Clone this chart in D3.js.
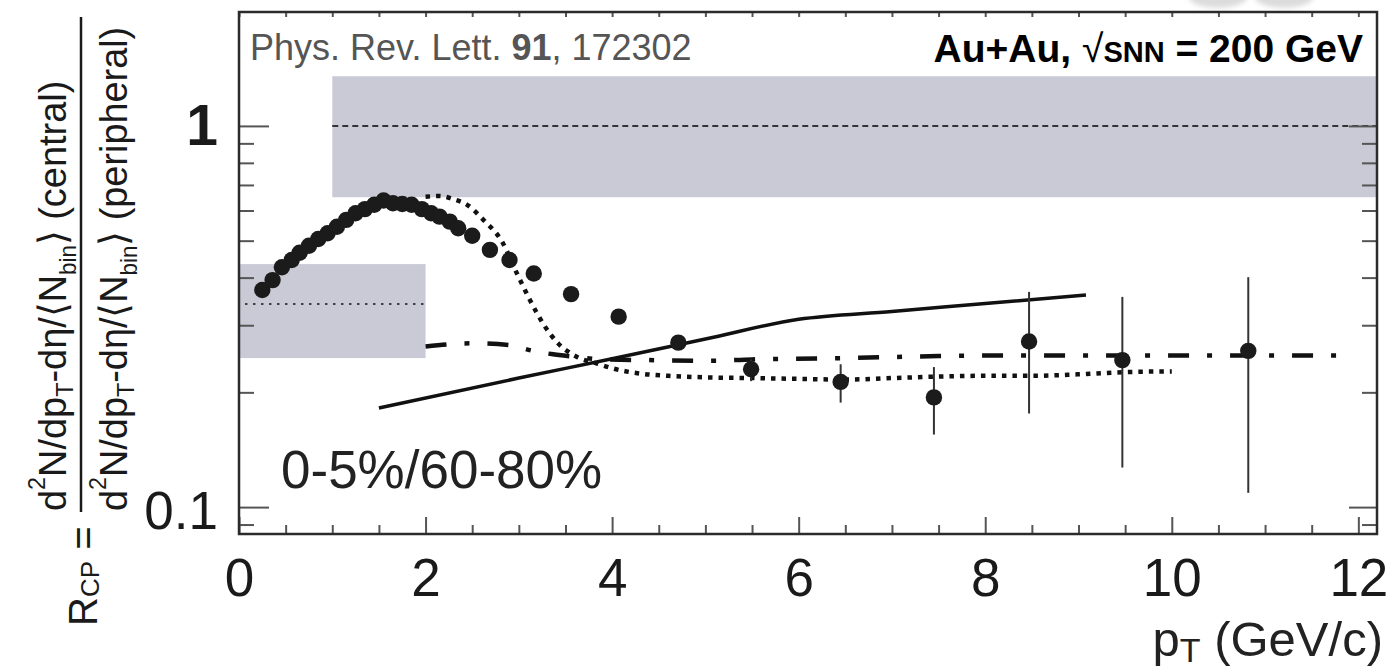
<!DOCTYPE html>
<html>
<head>
<meta charset="utf-8">
<script src="https://cdn.jsdelivr.net/npm/d3@7"></script>
<style>
  body { margin: 0; background: #fff; }
  svg { display: block; font-family: "Liberation Sans", Arial, Helvetica, sans-serif; }
</style>
</head>
<body>
<svg id="chart" width="1400" height="669"></svg>
<script>
// measured R_CP points (charged hadrons, 0-5% / 60-80%)
const ptData = [0.25, 0.36, 0.46, 0.565, 0.65, 0.75, 0.85, 0.95, 1.05, 1.15, 1.25, 1.35, 1.45, 1.55,
  1.65, 1.75, 1.85, 1.96, 2.06, 2.15, 2.26, 2.35, 2.5, 2.69, 2.9, 3.16, 3.56, 4.07, 4.71,
  5.49, 6.45, 7.45, 8.47, 9.47, 10.82];
const rcpData = [0.371, 0.394, 0.426, 0.445, 0.465, 0.485, 0.505, 0.523, 0.544, 0.567, 0.590, 0.605, 0.621, 0.637,
  0.627, 0.624, 0.621, 0.605, 0.590, 0.578, 0.561, 0.539, 0.515, 0.473, 0.445, 0.41, 0.362, 0.316, 0.270,
  0.230, 0.213, 0.194, 0.272, 0.243, 0.257];

// error bars (only visible at high pT)
const errPt = [5.49, 6.45, 7.45, 8.47, 9.47, 10.82];
const errLow = [0.214, 0.188, 0.155, 0.176, 0.127, 0.109];
const errHigh = [0.244, 0.237, 0.233, 0.367, 0.356, 0.401];

// model curves
const solidPt = [1.5, 3.0, 4.0, 5.0, 6.0, 7.0, 8.0, 9.08];
const solidR = [0.182, 0.218, 0.245, 0.276, 0.311, 0.326, 0.342, 0.360];

const dottedPt = [2.0, 2.15, 2.3, 2.45, 2.62, 2.82, 2.98, 3.12, 3.26, 3.42, 3.62, 3.84, 4.01, 4.3, 4.6,
  5.0, 5.5, 6.0, 6.5, 7.0, 7.5, 8.0, 8.5, 9.0, 9.5, 10.0];
const dottedR = [0.652, 0.655, 0.642, 0.62, 0.567, 0.497, 0.41, 0.349, 0.303, 0.269, 0.248, 0.238, 0.231, 0.224, 0.221,
  0.219, 0.218, 0.217, 0.216, 0.218, 0.220, 0.221, 0.221, 0.223, 0.226, 0.227];

const dashDotPt = [2.0, 2.5, 2.9, 3.15, 3.35, 3.6, 3.9, 4.4, 5.0, 5.5, 6.5, 7.5, 8.5, 9.8, 11.85];
const dashDotR = [0.264, 0.269, 0.266, 0.257, 0.252, 0.248, 0.244, 0.243, 0.242, 0.244, 0.246, 0.249, 0.250, 0.250, 0.250];

// normalisation uncertainty bands: [pT from, pT to, low, high, centre]
const bandNpart = [0, 2, 0.246, 0.434, 0.341];
const bandNbin = [1, 12.2, 0.65, 1.35, 1.0];

// axes
const xDomain = [0, 12.2];
const yDomain = [0.085, 1.99];
const xMajor = [0, 2, 4, 6, 8, 10, 12];
const xMinor = d3.range(0, 12.01, 0.5).filter(v => v % 2 !== 0);
const yMajor = [0.1, 1];
const yMinor = [0.09, 0.2, 0.3, 0.4, 0.5, 0.6, 0.7, 0.8, 0.9];

const svg = d3.select('#chart');
const frame = { left: 239, right: 1377, top: 12, bottom: 534 };

const x = d3.scaleLinear().domain(xDomain).range([frame.left, frame.right]);
const y = d3.scaleLog().domain(yDomain).range([frame.bottom, frame.top]);

svg.append('defs').append('clipPath').attr('id', 'plot-clip')
  .append('rect')
  .attr('x', frame.left).attr('y', frame.top)
  .attr('width', frame.right - frame.left).attr('height', frame.bottom - frame.top);

// faint logo fragment peeking above the frame
const blur = svg.select('defs').append('filter').attr('id', 'soft');
blur.append('feGaussianBlur').attr('stdDeviation', 2.5);
svg.append('g').attr('filter', 'url(#soft)')
  .selectAll('ellipse')
  .data([1218, 1284])
  .join('ellipse')
  .attr('cx', d => d).attr('cy', -4).attr('rx', 30).attr('ry', 12)
  .attr('fill', '#dcdcdc');

const plot = svg.append('g').attr('clip-path', 'url(#plot-clip)');

// gray bands
plot.selectAll('rect.band')
  .data([bandNpart, bandNbin])
  .join('rect')
  .attr('class', 'band')
  .attr('x', d => x(d[0]))
  .attr('width', d => x(d[1]) - x(d[0]))
  .attr('y', d => y(d[3]))
  .attr('height', d => y(d[2]) - y(d[3]))
  .attr('fill', '#c9cad5');

// centre lines of the bands
plot.append('line')
  .attr('x1', x(bandNpart[0]) + 6).attr('x2', x(bandNpart[1]))
  .attr('y1', y(bandNpart[4])).attr('y2', y(bandNpart[4]))
  .attr('stroke', '#444').attr('stroke-width', 2).attr('stroke-dasharray', '2.5,5.5');

plot.append('line')
  .attr('x1', x(bandNbin[0])).attr('x2', x(bandNbin[1]))
  .attr('y1', y(bandNbin[4])).attr('y2', y(bandNbin[4]))
  .attr('stroke', '#333').attr('stroke-width', 2).attr('stroke-dasharray', '6,4');

// model curves
const line = d3.line().x(d => x(d[0])).y(d => y(d[1])).curve(d3.curveMonotoneX);

plot.append('path')
  .attr('d', line(d3.zip(solidPt, solidR)))
  .attr('fill', 'none').attr('stroke', '#111').attr('stroke-width', 3.5);

plot.append('path')
  .attr('d', line(d3.zip(dashDotPt, dashDotR)))
  .attr('fill', 'none').attr('stroke', '#111').attr('stroke-width', 4.5)
  .attr('stroke-dasharray', '21,18,5,18');

plot.append('path')
  .attr('d', line(d3.zip(dottedPt, dottedR)))
  .attr('fill', 'none').attr('stroke', '#111').attr('stroke-width', 4.5)
  .attr('stroke-dasharray', '4.5,6');

// error bars
plot.selectAll('line.err')
  .data(d3.zip(errPt, errLow, errHigh))
  .join('line')
  .attr('class', 'err')
  .attr('x1', d => x(d[0])).attr('x2', d => x(d[0]))
  .attr('y1', d => y(d[1])).attr('y2', d => y(d[2]))
  .attr('stroke', '#333').attr('stroke-width', 2);

// data points
plot.selectAll('circle')
  .data(d3.zip(ptData, rcpData))
  .join('circle')
  .attr('cx', d => x(d[0]))
  .attr('cy', d => y(d[1]))
  .attr('r', 8.2)
  .attr('fill', '#1b1b1b');

// ticks: bottom (inward, with labels)
const tickColor = '#555';
const bottomMajor = svg.append('g')
  .attr('transform', `translate(0,${frame.bottom})`)
  .call(d3.axisBottom(x).tickValues(xMajor).tickSize(-17).tickPadding(24).tickFormat(d3.format('d')));
bottomMajor.select('.domain').remove();
bottomMajor.selectAll('line').attr('stroke', tickColor).attr('stroke-width', 2);
bottomMajor.selectAll('text')
  .attr('font-size', 53).attr('fill', '#1a1a1a').attr('font-family', '"Liberation Sans", Arial, sans-serif');

const bottomMinor = svg.append('g')
  .attr('transform', `translate(0,${frame.bottom})`)
  .call(d3.axisBottom(x).tickValues(xMinor).tickSize(-9).tickFormat(''));
bottomMinor.select('.domain').remove();
bottomMinor.selectAll('line').attr('stroke', tickColor).attr('stroke-width', 2);

// top ticks
const topAll = svg.append('g')
  .attr('transform', `translate(0,${frame.top})`)
  .call(d3.axisTop(x).tickValues(xMajor.concat(xMinor)).tickSize(-5).tickFormat(''));
topAll.select('.domain').remove();
topAll.selectAll('line').attr('stroke', tickColor).attr('stroke-width', 2);

// left ticks
const leftMajor = svg.append('g')
  .attr('transform', `translate(${frame.left},0)`)
  .call(d3.axisLeft(y).tickValues(yMajor).tickSize(-30).tickPadding(21).tickFormat(d => d === 1 ? '1' : '0.1'));
leftMajor.select('.domain').remove();
leftMajor.selectAll('line').attr('stroke', tickColor).attr('stroke-width', 2);
leftMajor.selectAll('text')
  .attr('font-size', d => d === 1 ? 57 : 53)
  .attr('font-weight', d => d === 1 ? 'bold' : 'normal')
  .attr('dy', d => d === 1 ? '0.33em' : '0.40em')
  .attr('fill', '#1a1a1a').attr('font-family', '"Liberation Sans", Arial, sans-serif');

const leftMinor = svg.append('g')
  .attr('transform', `translate(${frame.left},0)`)
  .call(d3.axisLeft(y).tickValues(yMinor).tickSize(-15).tickFormat(''));
leftMinor.select('.domain').remove();
leftMinor.selectAll('line').attr('stroke', tickColor).attr('stroke-width', 2);

// right ticks
const rightMajor = svg.append('g')
  .attr('transform', `translate(${frame.right},0)`)
  .call(d3.axisRight(y).tickValues(yMajor).tickSize(-28).tickFormat(''));
rightMajor.select('.domain').remove();
rightMajor.selectAll('line').attr('stroke', tickColor).attr('stroke-width', 2);

const rightMinor = svg.append('g')
  .attr('transform', `translate(${frame.right},0)`)
  .call(d3.axisRight(y).tickValues(yMinor).tickSize(-15).tickFormat(''));
rightMinor.select('.domain').remove();
rightMinor.selectAll('line').attr('stroke', tickColor).attr('stroke-width', 2);

// frame
svg.append('rect')
  .attr('x', frame.left).attr('y', frame.top)
  .attr('width', frame.right - frame.left).attr('height', frame.bottom - frame.top)
  .attr('fill', 'none').attr('stroke', '#2b2b2b').attr('stroke-width', 2.5);

// annotations
const ref = svg.append('text').attr('x', 250).attr('y', 60).attr('font-size', 36).attr('fill', '#555');
ref.append('tspan').text('Phys. Rev. Lett. ');
ref.append('tspan').attr('font-weight', 'bold').text('91');
ref.append('tspan').text(', 172302');

const sys = svg.append('text').attr('x', 1363).attr('y', 62).attr('text-anchor', 'end')
  .attr('font-size', 39).attr('font-weight', 'bold').attr('fill', '#000');
sys.append('tspan').text('Au+Au, ');
sys.append('tspan').attr('font-weight', 'normal').text('√');
sys.append('tspan').attr('font-size', 29).text('SNN');
sys.append('tspan').text(' = 200 GeV');

svg.append('text').attr('x', 281).attr('y', 488).attr('font-size', 53).attr('fill', '#222')
  .text('0-5%/60-80%');

// x axis title
const xt = svg.append('text').attr('x', 1383).attr('y', 656).attr('text-anchor', 'end')
  .attr('font-size', 49).attr('fill', '#222');
xt.append('tspan').text('p');
xt.append('tspan').attr('font-size', 34).attr('dy', 6).text('T');
xt.append('tspan').attr('dy', -6).text(' (GeV/c)');

// y axis title: R_CP = numerator / denominator (rotated)
function rotatedText(px, py, parts, target) {
  const t = svg.append('text').attr('fill', '#1a1a1a')
    .attr('transform', `translate(${px},${py}) rotate(-90)`);
  parts.forEach(p => {
    t.append('tspan').attr('font-size', p.s).attr('dy', p.dy || 0).text(p.t);
  });
  if (target) {
    const len = t.node().getComputedTextLength();
    t.attr('transform', `translate(${px},${py}) rotate(-90) scale(${target / len},1)`);
  }
  return t;
}

const fracParts = (tail) => [
  { t: 'd', s: 39 }, { t: '2', s: 24, dy: -21 }, { t: 'N/dp', s: 39, dy: 21 },
  { t: 'T', s: 24, dy: 7 }, { t: '-dη/⟨N', s: 39, dy: -7 }, { t: 'bin', s: 23, dy: 10 },
  { t: '⟩ ' + tail, s: 39, dy: -10 }
];

rotatedText(66, 511, fracParts('(central)'), 430);
rotatedText(127, 511, fracParts('(peripheral)'), 484);

svg.append('line')
  .attr('x1', 81).attr('x2', 81).attr('y1', 17).attr('y2', 512)
  .attr('stroke', '#1a1a1a').attr('stroke-width', 2.5);

rotatedText(97, 626, [
  { t: 'R', s: 40 }, { t: 'CP', s: 26, dy: 2 }, { t: ' =', s: 40, dy: -2 }
]);
</script>
</body>
</html>
